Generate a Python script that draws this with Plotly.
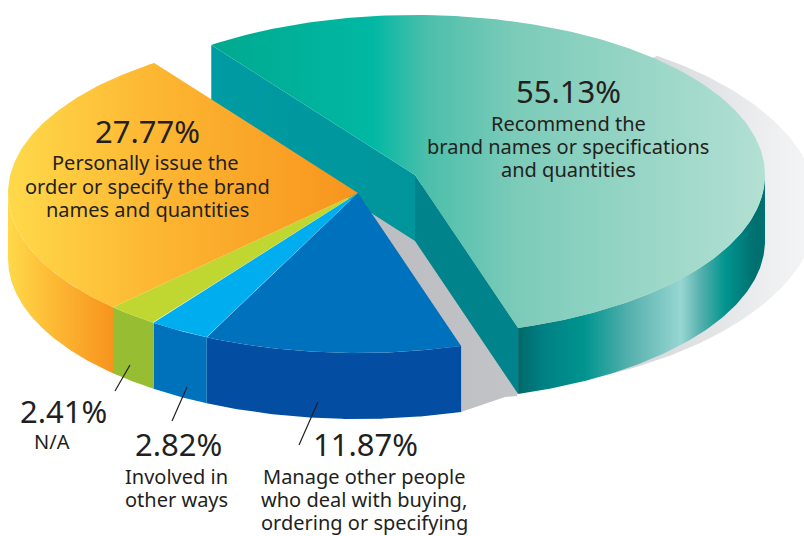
import numpy as np
import plotly.graph_objects as go

# --- data -----------------------------------------------------------------
categories = [
    "Recommend the brand names or specifications and quantities",
    "Manage other people who deal with buying, ordering or specifying",
    "Involved in other ways",
    "N/A",
    "Personally issue the order or specify the brand names and quantities",
]
shares = [55.13, 11.87, 2.82, 2.41, 27.77]
share_labels = ["55.13%", "11.87%", "2.82%", "2.41%", "27.77%"]
label_lines = [
    ["Recommend the", "brand names or specifications", "and quantities"],
    ["Manage other people", "who deal with buying,", "ordering or specifying"],
    ["Involved in", "other ways"],
    ["N/A"],
    ["Personally issue the", "order or specify the brand", "names and quantities"],
]

# --- geometry of the drawing (pixel axes) ---------------------------------
W, H = 804, 536
CENTER = (358, 193)
EXPLODE = (57, -18)
A, B = 350, 160
DEPTH = 66
START = -125.6

FONT = "Noto Sans"
INK = "#231f20"
TOP_FILLS = [
    [[0, "#00a98f"], [0.29, "#00b8a4"], [0.39, "#4cbfab"], [0.55, "#7ccbb9"], [1, "#b3e0d3"]],
    "#0071bc", "#00adef", "#bfd730",
    [[0, "#ffd94a"], [0.4, "#fdb833"], [1, "#f7941d"]],
]
WALL_FILLS = [
    [[0, "#00696a"], [0.1, "#008084"], [0.27, "#00948f"], [0.45, "#55b0ad"], [0.66, "#98d6d2"],
     [0.74, "#55b0ad"], [0.84, "#00948f"], [0.96, "#006f70"], [1, "#006f70"]],
    "#034ea2", "#0072bc", "#97bd33",
    [[0, "#ffd94a"], [0.45, "#fdb833"], [1, "#f7941d"]],
]

def arc(cx, cy, t0, t1, n=120):
    t = np.radians(np.linspace(t0, t1, n))
    return cx + A * np.cos(t), cy + B * np.sin(t)

fig = go.Figure()

def poly(x, y, fill):
    kw = dict(x=list(x), y=list(y), mode="lines", line=dict(width=0),
              fill="toself", hoverinfo="skip", showlegend=False)
    if isinstance(fill, str):
        kw["fillcolor"] = fill
    else:
        kw["fillgradient"] = dict(type="horizontal", colorscale=fill)
    fig.add_trace(go.Scatter(**kw))

# spans of every slice, from the shares
edges = START + np.cumsum([0] + shares) * 360.0 / sum(shares)
spans = list(zip(edges[:-1], edges[1:]))

# cast shadow
t = np.radians(np.linspace(-55, 78, 120))
sx = 440 + 378 * np.cos(t)
sy = 208 + 186 * np.sin(t)
poly(np.r_[sx, 517, 505, 461, 372], np.r_[sy, 396, 397, 412, 213],
     [[0, "#bcbdc0"], [0.3, "#c2c3c6"], [0.5, "#d0d1d3"], [0.74, "#e1e2e4"], [0.92, "#f0f1f2"], [1, "#f4f5f6"]])

def cut_face(cx, cy, ang, fill):
    ex = cx + A * np.cos(np.radians(ang))
    ey = cy + B * np.sin(np.radians(ang))
    poly([cx, ex, ex, cx], [cy, ey, ey + DEPTH, cy + DEPTH], fill)

# exploded slice
t0, t1 = spans[0]
cx, cy = CENTER[0] + EXPLODE[0], CENTER[1] + EXPLODE[1]
cut_face(cx, cy, t0, [[0, "#009ba3"], [1, "#00959b"]])
cut_face(cx, cy, t1, "#00838a")
x, y = arc(cx, cy, 0, t1)
poly(np.r_[x, x[::-1]], np.r_[y, y[::-1] + DEPTH], WALL_FILLS[0])
x, y = arc(cx, cy, t0, t1, 240)
poly(np.r_[cx, x], np.r_[cy, y], TOP_FILLS[0])

# remaining slices: walls, then tops
cx, cy = CENTER
for i in range(1, len(shares)):
    a0, a1 = spans[i]
    a1_vis = min(a1, 180)
    x, y = arc(cx, cy, a0, a1_vis)
    poly(np.r_[x, x[::-1]], np.r_[y, y[::-1] + DEPTH], WALL_FILLS[i])
for i in range(1, len(shares)):
    a0, a1 = spans[i]
    x, y = arc(cx, cy, a0, a1)
    poly(np.r_[cx, x], np.r_[cy, y], TOP_FILLS[i])

# --- text -----------------------------------------------------------------
def text(s, x, y, size):
    fig.add_annotation(x=x, y=y, text=s, showarrow=False, xanchor="center", yanchor="middle",
                       font=dict(family=FONT, size=size, color=INK))

PCT = 31
BODY = 20
text(share_labels[0], 568, 91, PCT)
for line, yy in zip(label_lines[0], (123, 146, 169)):
    text(line, 568, yy, BODY)
text(share_labels[4], 147, 131, PCT)
for line, xx, yy in zip(label_lines[4], (145, 147, 147), (162, 186, 209)):
    text(line, xx, yy, BODY)
text(share_labels[3], 63, 411, PCT)
text(label_lines[3][0], 52, 441, BODY)
text(share_labels[2], 178, 444, PCT)
for line, yy in zip(label_lines[2], (476, 499)):
    text(line, 176, yy, BODY)
text(share_labels[1], 365, 444, PCT)
for line, yy in zip(label_lines[1], (476, 499, 522)):
    text(line, 364, yy, BODY)

for x0, y0, x1, y1 in [(130, 365, 115, 391), (187, 387, 172, 421), (318, 402, 299, 445)]:
    fig.add_shape(type="line", x0=x0, y0=y0, x1=x1, y1=y1, line=dict(color=INK, width=1.2))

fig.update_layout(
    width=W, height=H, margin=dict(l=0, r=0, t=0, b=0),
    paper_bgcolor="white", plot_bgcolor="white", showlegend=False,
    xaxis=dict(range=[0, W], visible=False, fixedrange=True),
    yaxis=dict(range=[H, 0], visible=False, fixedrange=True),
)
fig.write_html("out.html", config=dict(displayModeBar=False),
               post_script="document.body.style.margin='0';document.documentElement.style.overflow='hidden';")
